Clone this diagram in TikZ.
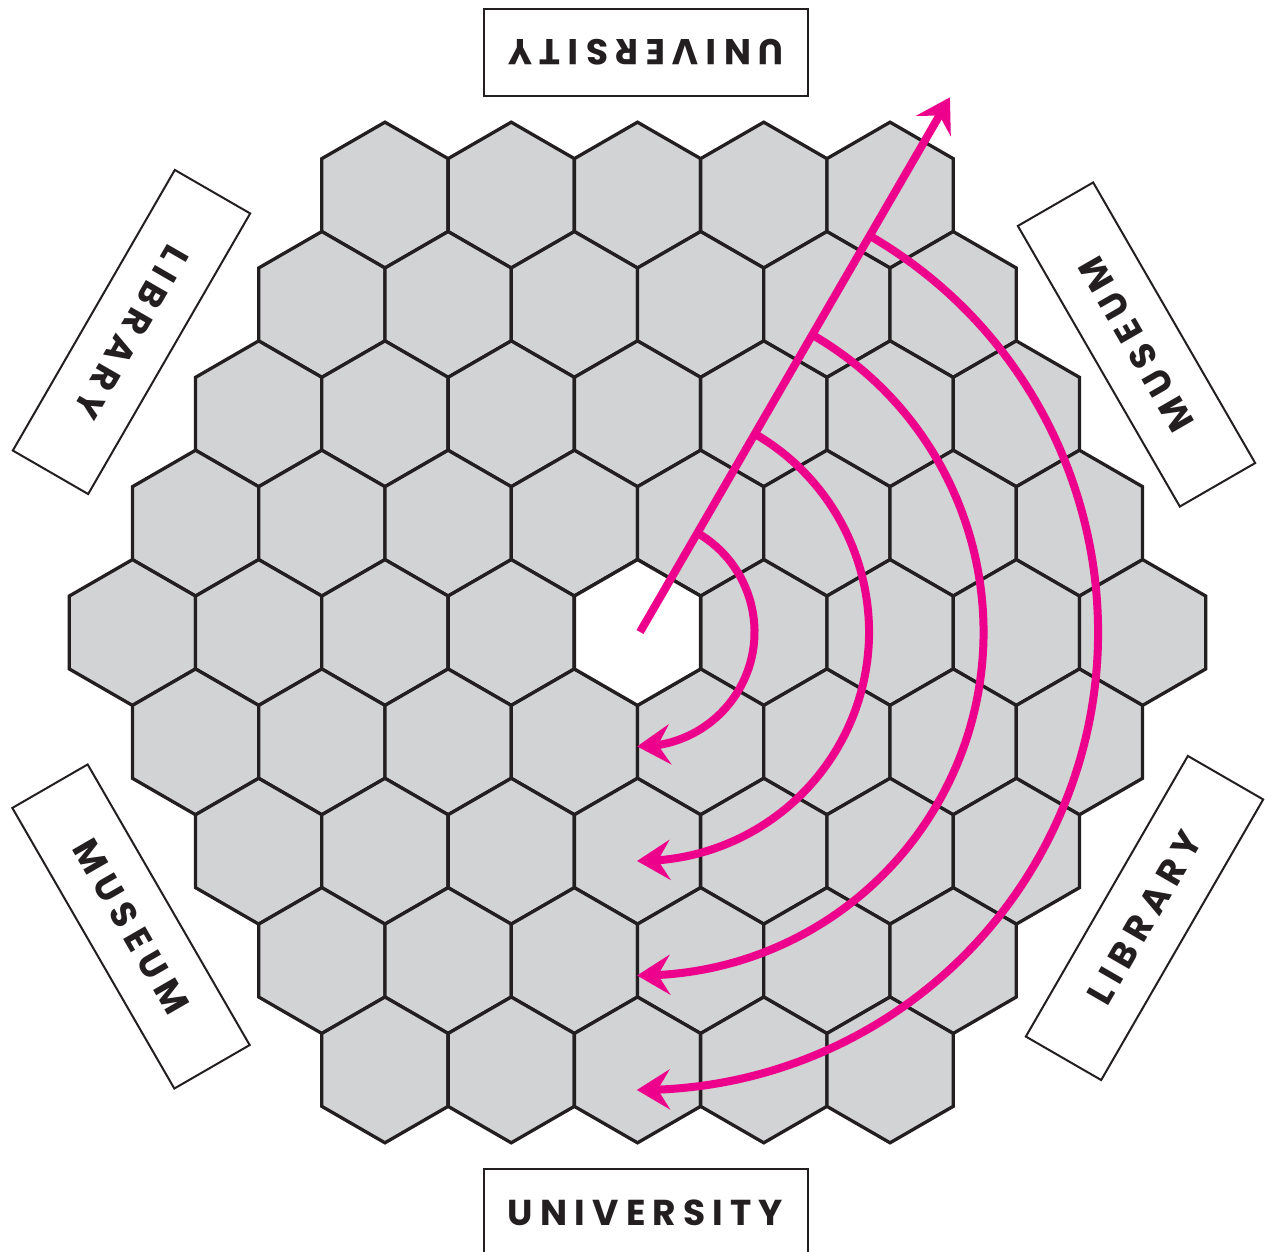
\documentclass[tikz,border=0pt]{standalone}
\usepackage{fontspec}
\newfontfamily\labfont{Poppins}[LetterSpace=20]
\usetikzlibrary{arrows.meta,bending,calc}
\definecolor{ink}{HTML}{231F20}
\definecolor{hexgray}{HTML}{D1D3D4}
\definecolor{magentac}{HTML}{EC008C}
\tikzset{
  hexcell/.style={draw=ink, fill=hexgray, line width=3.3pt},
  labelbox/.style={draw=ink, line width=2pt, fill=white, minimum width=324pt,
    minimum height=87pt, inner sep=0pt, text=ink, text height=25pt, text depth=0pt,
    font=\labfont\bfseries\fontsize{36pt}{36pt}\selectfont},
  route/.style={draw=magentac, line width=8pt},
  routearrow/.style={route, -{Stealth[length=33pt,width=40pt,inset=12pt]}}
}
\begin{document}
\begin{tikzpicture}[x=1pt,y=1pt]
\useasboundingbox (0,0) rectangle (1265,1251);
% hex grid
\def\R{72.9}
\def\cx{637.5}
\def\cy{618.5}
\foreach \k in {-4,...,4} {
  \pgfmathtruncatemacro\n{9-abs(\k)}
  \foreach \j in {1,...,\n} {
    \pgfmathsetmacro\hx{\cx + 126.27*(\j - 1 - (8-abs(\k))/2)}
    \pgfmathsetmacro\hy{\cy - 109.35*\k}
    \draw[hexcell] (\hx,\hy) +(30:\R) -- +(90:\R) -- +(150:\R) -- +(210:\R) -- +(270:\R) -- +(330:\R) -- cycle;
  }
}
\draw[hexcell, fill=white] (\cx,\cy) +(30:\R) -- +(90:\R) -- +(150:\R) -- +(210:\R) -- +(270:\R) -- +(330:\R) -- cycle;

% labels
\node[labelbox, rotate=180] (uTop) at (646,1198.5) {UNIVERSITY};
\node[labelbox] (uBot) at (645.5,38.5) {UNIVERSITY};
\node[labelbox, rotate=-120] (libTL) at (131.5,919) {LIBRARY};
\node[labelbox, rotate=120] (musTR) at (1136.5,906.5) {MUSEUM};
\node[labelbox, rotate=-60] (musBL) at (131,324.5) {MUSEUM};
\node[labelbox, rotate=60] (libBR) at (1144.5,333) {LIBRARY};

% routes
\coordinate (O) at (640,619);
\coordinate (tipM) at ([shift={(59.9:618)}]O);
\coordinate (j1) at ([shift={(60:114.5)}]O);
\coordinate (j2) at ([shift={(60:229)}]O);
\coordinate (j3) at ([shift={(60:343.5)}]O);
\coordinate (j4) at ([shift={(60:458)}]O);
\draw[routearrow] (j1) arc[start angle=60, end angle=-91.5, radius=114.5pt];
\draw[routearrow] (j2) arc[start angle=60, end angle=-90.75, radius=229pt];
\draw[routearrow] (j3) arc[start angle=60, end angle=-90.5, radius=343.5pt];
\draw[routearrow] (j4) arc[start angle=60, end angle=-90.4, radius=458pt];
\draw[routearrow] (O) -- (tipM);
\end{tikzpicture}
\end{document}
